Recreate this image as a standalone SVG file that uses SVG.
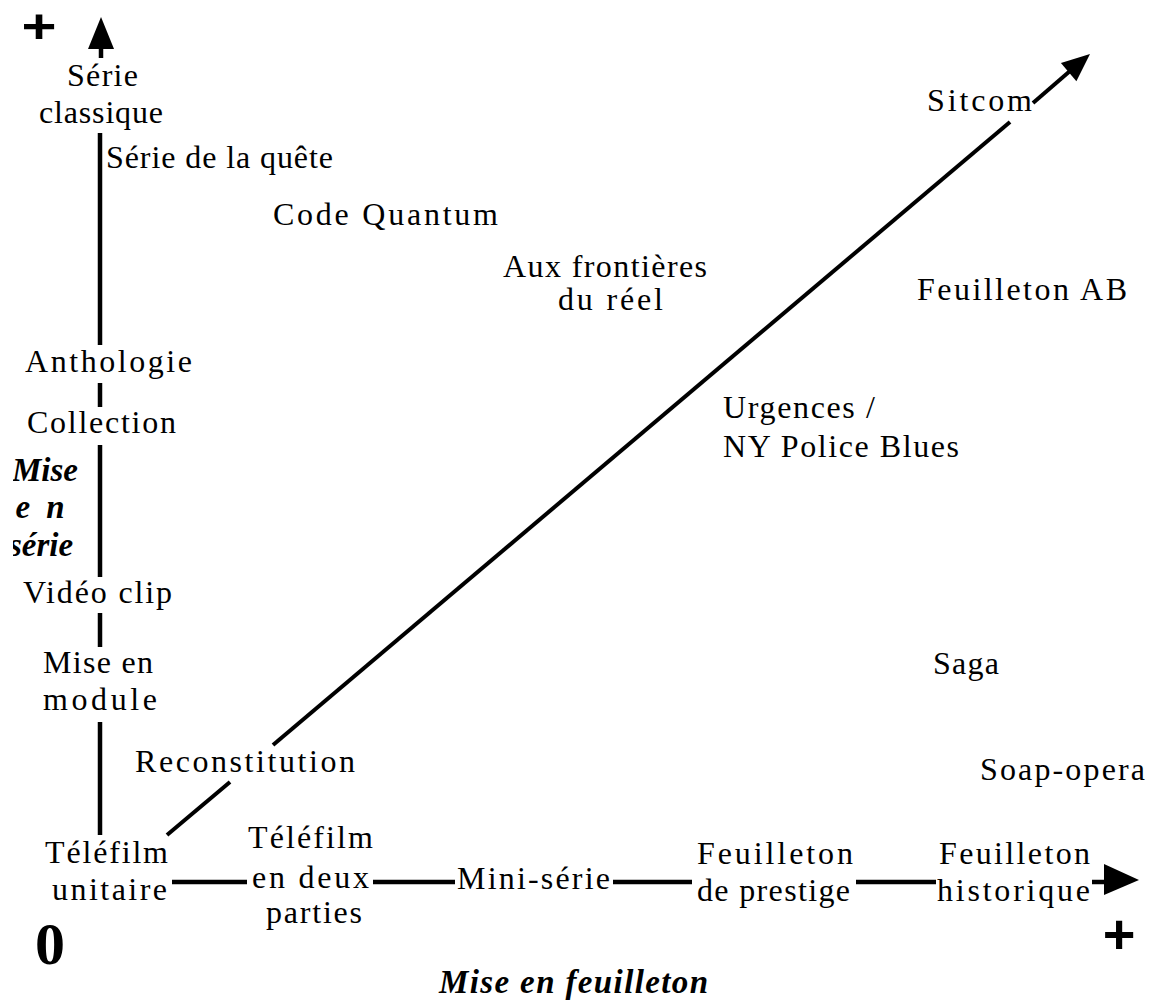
<svg xmlns="http://www.w3.org/2000/svg" width="1162" height="1004" viewBox="0 0 1162 1004">
<style>
  .t { font-family: "Liberation Serif", "Times New Roman", serif; font-size: 32px; fill: #000; }
  .bi { font-family: "Liberation Serif", "Times New Roman", serif; font-size: 33px; font-weight: bold; font-style: italic; fill: #000; }
  .plus { font-family: "Liberation Sans", Arial, sans-serif; font-weight: bold; fill: #000; }
  .zero { font-family: "Liberation Serif", "Times New Roman", serif; font-size: 60px; font-weight: bold; fill: #000; }
  .ax { stroke: #000; stroke-width: 4.5; fill: none; }
  .dg { stroke: #000; stroke-width: 4; fill: none; }
  .head { fill: #000; stroke: none; }
</style>
<defs>
  <clipPath id="leftclip"><rect x="13" y="440" width="120" height="140"/></clipPath>
</defs>
<rect x="0" y="0" width="1162" height="1004" fill="#fff"/>

<g id="connectors">
  <!-- vertical axis -->
  <line class="ax" x1="101" y1="46" x2="101" y2="58"/>
  <polygon class="head" points="101,17 88,49 114,49"/>
  <line class="ax" x1="100" y1="133" x2="100" y2="345"/>
  <line class="ax" x1="100" y1="383" x2="100" y2="407"/>
  <line class="ax" x1="100" y1="445" x2="100" y2="577"/>
  <line class="ax" x1="100" y1="613" x2="100" y2="647"/>
  <line class="ax" x1="100" y1="722" x2="100" y2="835"/>
  <!-- horizontal axis -->
  <line class="ax" x1="172" y1="882" x2="247" y2="882"/>
  <line class="ax" x1="373" y1="882" x2="455" y2="882"/>
  <line class="ax" x1="613" y1="882" x2="692" y2="882"/>
  <line class="ax" x1="856" y1="882" x2="936" y2="882"/>
  <line class="ax" x1="1092" y1="882" x2="1108" y2="882"/>
  <polygon class="head" points="1139,880 1104,864 1104,895"/>
  <!-- diagonal axis -->
  <line class="dg" x1="167" y1="835" x2="230" y2="782"/>
  <line class="dg" x1="273" y1="745" x2="1010" y2="122"/>
  <line class="dg" x1="1033" y1="103" x2="1070" y2="71"/>
  <polygon class="head" points="1090,54 1076.4,81.3 1060.9,62.9"/>
</g>

<g id="axis-marks">
  <text class="plus" font-size="48" transform="translate(39,43) scale(1.25,1)" text-anchor="middle">+</text>
  <text class="plus" font-size="56" transform="translate(1119,953)" text-anchor="middle">+</text>
  <text class="zero" x="35" y="964">0</text>
</g>

<g id="label-serie-axis">
  <g clip-path="url(#leftclip)">
    <text class="bi" x="45" y="481" text-anchor="middle">Mise</text>
    <text class="bi" x="42" y="518" text-anchor="middle" letter-spacing="4">e n</text>
    <text class="bi" x="41" y="556" text-anchor="middle">série</text>
  </g>
</g>
<g id="label-feuilleton-axis">
  <text class="bi" x="439" y="993" textLength="269" lengthAdjust="spacing">Mise en feuilleton</text>
</g>

<g id="node-serie-classique">
  <text class="t" x="67" y="86" textLength="71" lengthAdjust="spacing">Série</text>
  <text class="t" x="39" y="123" textLength="124" lengthAdjust="spacing">classique</text>
</g>
<g id="node-serie-quete"><text class="t" x="106" y="168" textLength="227" lengthAdjust="spacing">Série de la quête</text></g>
<g id="node-code-quantum"><text class="t" x="273" y="225" textLength="225" lengthAdjust="spacing">Code Quantum</text></g>
<g id="node-aux-frontieres">
  <text class="t" x="503" y="277" textLength="204" lengthAdjust="spacing">Aux frontières</text>
  <text class="t" x="558" y="310" textLength="105" lengthAdjust="spacing">du réel</text>
</g>
<g id="node-sitcom"><text class="t" x="927" y="111" textLength="105" lengthAdjust="spacing">Sitcom</text></g>
<g id="node-feuilleton-ab"><text class="t" x="917" y="300" textLength="210" lengthAdjust="spacing">Feuilleton AB</text></g>
<g id="node-anthologie"><text class="t" x="25" y="372" textLength="167" lengthAdjust="spacing">Anthologie</text></g>
<g id="node-collection"><text class="t" x="27" y="433" textLength="149" lengthAdjust="spacing">Collection</text></g>
<g id="node-urgences">
  <text class="t" x="723" y="418" textLength="152" lengthAdjust="spacing">Urgences /</text>
  <text class="t" x="723" y="457" textLength="236" lengthAdjust="spacing">NY Police Blues</text>
</g>
<g id="node-video-clip"><text class="t" x="23" y="603" textLength="149" lengthAdjust="spacing">Vidéo clip</text></g>
<g id="node-mise-en-module">
  <text class="t" x="43" y="673" textLength="110" lengthAdjust="spacing">Mise en</text>
  <text class="t" x="43" y="710" textLength="114" lengthAdjust="spacing">module</text>
</g>
<g id="node-saga"><text class="t" x="933" y="674" textLength="66" lengthAdjust="spacing">Saga</text></g>
<g id="node-reconstitution"><text class="t" x="135" y="772" textLength="220" lengthAdjust="spacing">Reconstitution</text></g>
<g id="node-soap-opera"><text class="t" x="980" y="780" textLength="165" lengthAdjust="spacing">Soap-opera</text></g>
<g id="node-telefilm-unitaire">
  <text class="t" x="45" y="863" textLength="123" lengthAdjust="spacing">Téléfilm</text>
  <text class="t" x="52" y="900" textLength="115" lengthAdjust="spacing">unitaire</text>
</g>
<g id="node-telefilm-deux-parties">
  <text class="t" x="248" y="848" textLength="125" lengthAdjust="spacing">Téléfilm</text>
  <text class="t" x="252" y="888" textLength="117" lengthAdjust="spacing">en deux</text>
  <text class="t" x="266" y="923" textLength="96" lengthAdjust="spacing">parties</text>
</g>
<g id="node-mini-serie"><text class="t" x="457" y="889" textLength="153" lengthAdjust="spacing">Mini-série</text></g>
<g id="node-feuilleton-prestige">
  <text class="t" x="697" y="864" textLength="156" lengthAdjust="spacing">Feuilleton</text>
  <text class="t" x="697" y="901" textLength="153" lengthAdjust="spacing">de prestige</text>
</g>
<g id="node-feuilleton-historique">
  <text class="t" x="939" y="864" textLength="151" lengthAdjust="spacing">Feuilleton</text>
  <text class="t" x="937" y="901" textLength="153" lengthAdjust="spacing">historique</text>
</g>
</svg>
